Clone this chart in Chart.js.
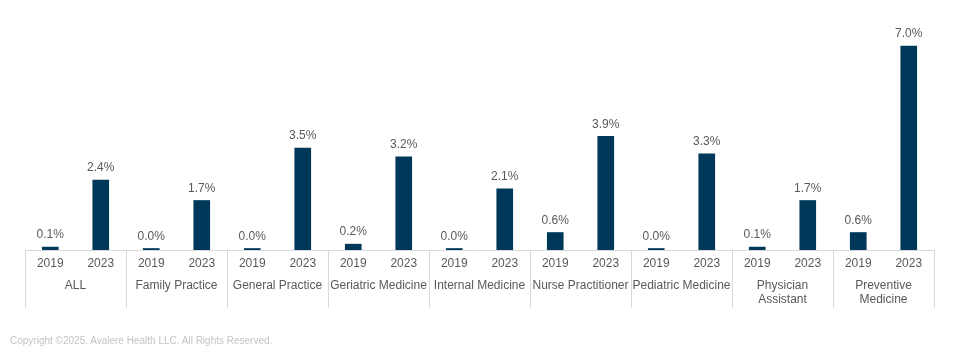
<!DOCTYPE html>
<html>
<head>
<meta charset="utf-8">
<title>Rates 2019 vs 2023 by specialty</title>
<script src="https://cdn.jsdelivr.net/npm/chart.js@4.4.1/dist/chart.umd.min.js"></script>
<style>
  body { margin: 0; background: #fff; }
  #wrap { position: relative; width: 960px; height: 360px; }
  #note { position: absolute; left: 10px; top: 335px; font: 10px "Liberation Sans", Arial, sans-serif; color: #c4c4c4; }
</style>
</head>
<body>
<div id="wrap">
  <canvas id="barChart" width="960" height="360"></canvas>
  <div id="note">Copyright ©2025. Avalere Health LLC. All Rights Reserved.</div>
</div>

<script>
var groups = ["ALL", "Family Practice", "General Practice", "Geriatric Medicine", "Internal Medicine",
              "Nurse Practitioner", "Pediatric Medicine", ["Physician", "Assistant"], ["Preventive", "Medicine"]];
var years = ["2019", "2023"];
var rate2019 = [0.1, 0.0, 0.0, 0.2, 0.0, 0.6, 0.0, 0.1, 0.6];
var rate2023 = [2.4, 1.7, 3.5, 3.2, 2.1, 3.9, 3.3, 1.7, 7.0];

// one bar per (group, year)
var labels = [], values = [];
groups.forEach(function (g, i) {
    labels.push(years[0], years[1]);
    values.push(rate2019[i], rate2023[i]);
});

var textColor = "#595959";
var lineColor = "#d9d9d9";
var fontFamily = '"Liberation Sans", Arial, sans-serif';

// value labels above bars
var barLabels = {
    id: 'barLabels',
    afterDatasetsDraw: function (chart) {
        var ctx = chart.ctx;
        ctx.save();
        ctx.font = "12px " + fontFamily;
        ctx.fillStyle = textColor;
        ctx.textAlign = "center";
        ctx.textBaseline = "middle";
        chart.getDatasetMeta(0).data.forEach(function (bar, i) {
            ctx.fillText(values[i].toFixed(1) + "%", bar.x, bar.y - 12);
        });
        ctx.restore();
    }
};

// group names, baseline and separators under the year ticks
var groupAxis = {
    id: 'groupAxis',
    afterDraw: function (chart) {
        var ctx = chart.ctx, x = chart.scales.x, area = chart.chartArea;
        var half = (area.right - area.left) / labels.length / 2;
        ctx.save();
        ctx.strokeStyle = lineColor;
        ctx.lineWidth = 1;
        ctx.beginPath();
        ctx.moveTo(area.left, area.bottom + 0.5);
        ctx.lineTo(area.right, area.bottom + 0.5);
        for (var i = 0; i <= groups.length; i++) {
            var sx = Math.round(area.left + i * half * 4) + 0.5;
            ctx.moveTo(sx, area.bottom);
            ctx.lineTo(sx, area.bottom + 58);
        }
        ctx.stroke();

        ctx.font = "12px " + fontFamily;
        ctx.fillStyle = textColor;
        ctx.textAlign = "center";
        ctx.textBaseline = "middle";
        groups.forEach(function (g, i) {
            var cx = (x.getPixelForValue(2 * i) + x.getPixelForValue(2 * i + 1)) / 2;
            var lines = Array.isArray(g) ? g : [g];
            lines.forEach(function (t, j) {
                ctx.fillText(t, cx, area.bottom + 36 + j * 14);
            });
        });
        ctx.restore();
    }
};

new Chart(document.getElementById("barChart").getContext("2d"), {
    type: 'bar',
    data: {
        labels: labels,
        datasets: [{
            data: values,
            backgroundColor: "#00385a",
            barThickness: 16,
            minBarLength: 1.5
        }]
    },
    options: {
        responsive: false,
        animation: false,
        layout: { padding: { left: 25, right: 26, top: 17, bottom: 0 } },
        plugins: { legend: { display: false }, tooltip: { enabled: false } },
        scales: {
            x: {
                grid: { display: false, drawTicks: false },
                border: { display: false },
                ticks: { color: textColor, font: { family: fontFamily, size: 12 }, padding: 6, maxRotation: 0, autoSkip: false },
                afterFit: function (scale) { scale.height = 110; }
            },
            y: {
                display: false,
                min: 0,
                max: 8
            }
        }
    },
    plugins: [barLabels, groupAxis]
});
</script>
</body>
</html>
